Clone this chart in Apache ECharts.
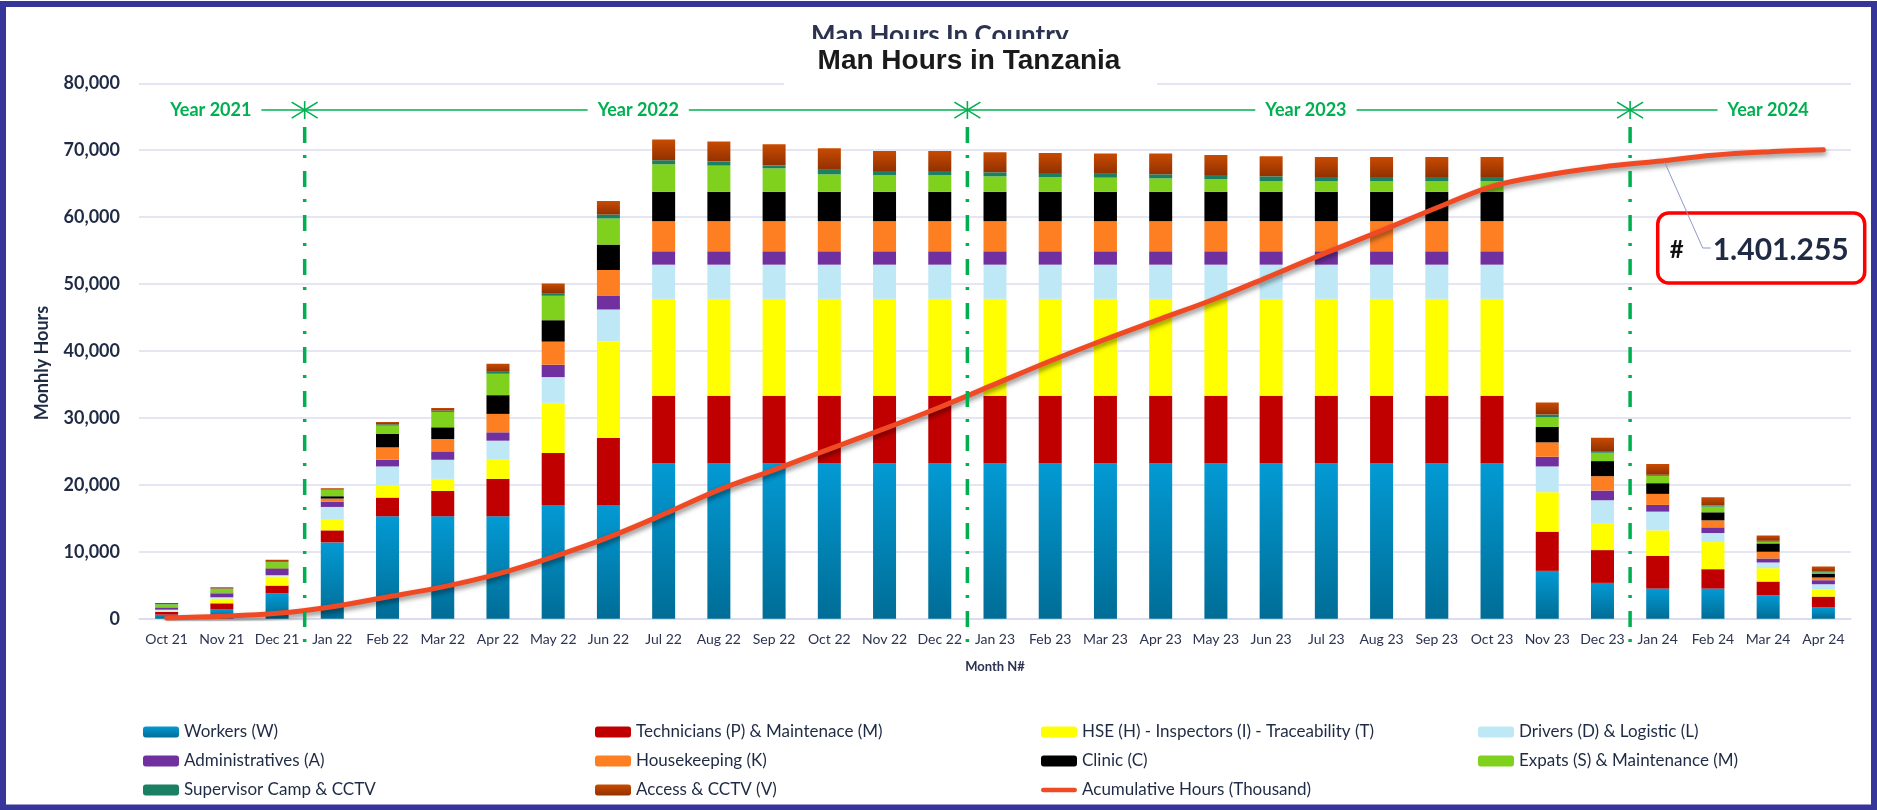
<!DOCTYPE html>
<html>
<head>
<meta charset="utf-8">
<script src="https://cdn.jsdelivr.net/npm/echarts@6/dist/echarts.min.js"></script>
<style>
  html, body { margin: 0; padding: 0; background: #ffffff; }
  #chart { width: 1877px; height: 810px; }
</style>
</head>
<body>
<div id="chart"></div>
<script>
// Months on the category axis
const months = ['Oct 21','Nov 21','Dec 21','Jan 22','Feb 22','Mar 22','Apr 22','May 22','Jun 22','Jul 22','Aug 22','Sep 22','Oct 22','Nov 22','Dec 22','Jan 23','Feb 23','Mar 23','Apr 23','May 23','Jun 23','Jul 23','Aug 23','Sep 23','Oct 23','Nov 23','Dec 23','Jan 24','Feb 24','Mar 24','Apr 24'];

// Monthly hours per staff group
const workers      = [600,1450,3800,11400,15300,15300,15300,17000,17000, 23200,23200,23200,23200,23200,23200,23200,23200,23200,23200,23200,23200,23200,23200,23200,23200, 7150,5350,4500,4500,3500,1700];
const technicians  = [400,850,1150,1800,2800,3800,5600,7750,10000, 10100,10100,10100,10100,10100,10100,10100,10100,10100,10100,10100,10100,10100,10100,10100,10100, 5850,4900,4900,2900,2050,1600];
const hse          = [200,700,1350,1700,1800,1800,2850,7500,14400, 14500,14500,14500,14500,14500,14500,14500,14500,14500,14500,14500,14500,14500,14500,14500,14500, 5900,4050,3800,4050,2000,1100];
const drivers      = [150,200,200,1800,2850,2850,2850,3850,4800, 5100,5100,5100,5100,5100,5100,5100,5100,5100,5100,5100,5100,5100,5100,5100,5100, 3850,3400,2800,1350,850,750];
const admins       = [250,600,950,800,1000,1250,1250,1850,2100, 2000,2000,2000,2000,2000,2000,2000,2000,2000,2000,2000,2000,2000,2000,2000,2000, 1450,1450,1000,850,600,600];
const housekeeping = [50,50,50,450,1850,1850,2750,3450,3800, 4500,4500,4500,4500,4500,4500,4500,4500,4500,4500,4500,4500,4500,4500,4500,4500, 2150,2150,1650,1050,1000,400];
const clinic       = [50,50,50,350,2050,1750,2800,3200,3800, 4400,4400,4400,4400,4400,4400,4400,4400,4400,4400,4400,4400,4400,4400,4400,4400, 2300,2250,1600,1200,1250,600];
const expats       = [450,550,900,950,1200,2300,3200,3650,3900, 4100,3900,3500,2600,2500,2500,2300,2200,2100,2000,1900,1600,1600,1600,1600,1600, 1450,1250,1100,850,250,150];
const supervisor   = [50,50,50,50,200,200,300,400,600, 600,600,400,700,600,600,600,600,600,600,600,700,600,600,600,600, 400,250,150,150,150,150];
const access       = [150,200,300,200,350,400,1200,1450,2000, 3100,3000,3200,3200,3000,3000,3000,3000,3000,3100,3000,3000,3000,3000,3000,3000, 1800,2000,1600,1250,800,750];

// Accumulated hours, in thousands
const cumulative = [2.4,7,16,36,65,95,134,185,243,312,385,445,507,568,632,701,770,835,896,957,1025,1094,1160,1228,1292,1326,1350,1367,1385,1395,1401.255];

// Year bands above the bars: label and first month index of each year
const yearLabels = ['Year 2021','Year 2022','Year 2023','Year 2024'];
const yearStarts = [0, 3, 15, 27];

const FONT = 'Lato, "Open Sans", sans-serif';
const NAVY = '#1f2a44';
const GREEN = '#00b050';
const LINE_RED = '#f04a25';

function vGrad(top, bottom) {
  return new echarts.graphic.LinearGradient(0, 0, 0, 1, [
    { offset: 0, color: top }, { offset: 1, color: bottom }
  ]);
}

const barGroups = [
  { name: 'Workers (W)', data: workers, color: vGrad('#039ad4', '#006d96') },
  { name: 'Technicians (P) & Maintenace (M)', data: technicians, color: '#c00000' },
  { name: 'HSE (H) - Inspectors (I) - Traceability (T)', data: hse, color: '#ffff00' },
  { name: 'Drivers (D) & Logistic (L)', data: drivers, color: '#bfe8f7' },
  { name: 'Administratives (A)', data: admins, color: '#7030a0' },
  { name: 'Housekeeping (K)', data: housekeeping, color: '#fd7f22' },
  { name: 'Clinic (C)', data: clinic, color: '#000000' },
  { name: 'Expats (S) & Maintenance (M)', data: expats, color: '#7fd11e' },
  { name: 'Supervisor Camp & CCTV', data: supervisor, color: '#1b7f62' },
  { name: 'Access & CCTV (V)', data: access, color: vGrad('#c84b00', '#923100') }
];
const lineName = 'Acumulative Hours (Thousand)';

const series = barGroups.map(g => ({
  name: g.name,
  type: 'bar',
  stack: 'total',
  barWidth: 23,
  data: g.data,
  itemStyle: { color: g.color },
  emphasis: { disabled: true }
}));
series.push({
  name: lineName,
  type: 'line',
  yAxisIndex: 1,
  data: cumulative,
  smooth: 0.35,
  symbol: 'none',
  z: 5,
  lineStyle: {
    color: LINE_RED, width: 5, cap: 'round',
    shadowColor: 'rgba(0,0,0,0.45)', shadowBlur: 5, shadowOffsetX: 1, shadowOffsetY: 3
  },
  itemStyle: { color: LINE_RED },
  emphasis: { disabled: true }
});

// Legend: four columns, three rows
const lineIcon = 'path://M2.5,0 H35.5 A2.5,2.5 0 0 1 35.5,5 H2.5 A2.5,2.5 0 0 1 2.5,0 Z';
const legendCommon = {
  orient: 'vertical',
  top: 717,
  itemWidth: 36,
  itemHeight: 11,
  itemGap: 9,
  selectedMode: false,
  textStyle: { fontFamily: FONT, fontSize: 17, color: NAVY, lineHeight: 20 }
};

const chart = echarts.init(document.getElementById('chart'), null, { renderer: 'canvas' });

chart.setOption({
  animation: false,
  backgroundColor: '#ffffff',
  grid: { left: 139, right: 26, top: 83.3, bottom: 191.3, containLabel: false },
  legend: [
    Object.assign({}, legendCommon, { left: 138, data: ['Workers (W)', 'Administratives (A)', 'Supervisor Camp & CCTV'] }),
    Object.assign({}, legendCommon, { left: 590, data: ['Technicians (P) & Maintenace (M)', 'Housekeeping (K)', 'Access & CCTV (V)'] }),
    Object.assign({}, legendCommon, { left: 1036, data: ['HSE (H) - Inspectors (I) - Traceability (T)', 'Clinic (C)',
      { name: lineName, icon: lineIcon, itemStyle: { color: LINE_RED } }] }),
    Object.assign({}, legendCommon, { left: 1473, data: ['Drivers (D) & Logistic (L)', 'Expats (S) & Maintenance (M)'] })
  ],
  xAxis: {
    type: 'category',
    data: months,
    axisTick: { show: false },
    axisLine: { lineStyle: { color: '#d9d9ee', width: 1.5 } },
    axisLabel: { fontFamily: FONT, fontSize: 14, color: '#2b3350', margin: 14, interval: 0 },
    name: 'Month N#',
    nameLocation: 'middle',
    nameGap: 42,
    nameTextStyle: { fontFamily: FONT, fontSize: 13, fontWeight: 'bold', color: '#2b3350' }
  },
  yAxis: [{
    type: 'value',
    min: 0, max: 80000, interval: 10000,
    axisLine: { show: false },
    axisTick: { show: false },
    splitLine: { lineStyle: { color: '#dcdcef', width: 1.5 } },
    axisLabel: {
      fontFamily: FONT, fontSize: 18, fontWeight: 'bold', color: NAVY, margin: 19,
      formatter: v => v.toLocaleString('en-US')
    }
  }, {
    type: 'value',
    min: 0, max: 1600, interval: 200,
    show: false,
    splitLine: { show: false }
  }],
  series: series
});

// Annotations placed from the axes' own scales
function xPix(i) { return chart.convertToPixel({ xAxisIndex: 0 }, i); }
function yPix(v) { return chart.convertToPixel({ yAxisIndex: 0 }, v); }
function y2Pix(v) { return chart.convertToPixel({ yAxisIndex: 1 }, v); }

const ctx = document.createElement('canvas').getContext('2d');
function textWidth(t, font) { ctx.font = font; return ctx.measureText(t).width; }

const step = xPix(1) - xPix(0);
const baseY = yPix(0);
const rowY = yPix(76000);
const yearFont = 'bold 18px ' + FONT;
const graphics = [];

// Outer frame
graphics.push({
  type: 'rect', z: 100, silent: true,
  shape: { x: 3, y: 4, width: 1871, height: 803.5 },
  style: { fill: null, stroke: '#36369a', lineWidth: 6 }
});

// Value axis title
graphics.push({
  type: 'text', z: 10, silent: true,
  x: 42, y: 363, rotation: Math.PI / 2,
  style: { text: 'Monhly Hours', x: 0, y: 0, font: 'bold 18px ' + FONT, fill: NAVY, align: 'center', verticalAlign: 'middle' }
});

// Older heading, partly covered by the current title panel
graphics.push({
  type: 'text', z: 10, silent: true,
  style: { text: 'Man Hours In Country', x: 811, y: 23, font: 'bold 26px ' + FONT, fill: '#2b3350', align: 'left', verticalAlign: 'top' }
});
graphics.push({
  type: 'rect', z: 11, silent: true,
  shape: { x: 784, y: 39, width: 373, height: 49 },
  style: { fill: '#ffffff' }
});
graphics.push({
  type: 'text', z: 12, silent: true,
  style: { text: 'Man Hours in Tanzania', x: 969, y: 61, font: 'bold 28px "Liberation Sans", Arial, sans-serif', fill: '#1a1a1a', align: 'center', verticalAlign: 'middle' }
});

// Year boundaries (between December and January)
const boundaries = yearStarts.slice(1).map(i => xPix(i) - step / 2);
const green = { stroke: GREEN, lineWidth: 1.6 };

boundaries.forEach(bx => {
  graphics.push({
    type: 'line', z: 20, silent: true,
    shape: { x1: bx, y1: rowY + 17, x2: bx, y2: baseY + 30 },
    style: { stroke: GREEN, lineWidth: 3.5, lineDash: [16, 12, 3, 13] }
  });
  graphics.push({ type: 'polyline', z: 20, silent: true, shape: { points: [[bx - 13, rowY - 8], [bx, rowY], [bx - 13, rowY + 8]] }, style: Object.assign({ fill: null }, green) });
  graphics.push({ type: 'polyline', z: 20, silent: true, shape: { points: [[bx + 13, rowY - 8], [bx, rowY], [bx + 13, rowY + 8]] }, style: Object.assign({ fill: null }, green) });
  graphics.push({ type: 'line', z: 20, silent: true, shape: { x1: bx, y1: rowY - 9, x2: bx, y2: rowY + 9 }, style: green });
});

// Year labels with their span lines
const labelCentres = [0.8, 8.54, 20.63, 29.0];
yearLabels.forEach((label, k) => {
  const cx = xPix(0) + labelCentres[k] * step;
  const half = textWidth(label, yearFont) / 2;
  graphics.push({
    type: 'text', z: 20, silent: true,
    style: { text: label, x: cx, y: rowY, font: yearFont, fill: GREEN, align: 'center', verticalAlign: 'middle' }
  });
  if (k > 0) {
    graphics.push({ type: 'line', z: 20, silent: true, shape: { x1: boundaries[k - 1], y1: rowY, x2: cx - half - 10, y2: rowY }, style: green });
  }
  if (k < boundaries.length) {
    graphics.push({ type: 'line', z: 20, silent: true, shape: { x1: cx + half + 10, y1: rowY, x2: boundaries[k], y2: rowY }, style: green });
  }
});

// Callout with the accumulated total
const total = Math.round(cumulative[cumulative.length - 1] * 1000);
const totalText = total.toString().replace(/\B(?=(\d{3})+(?!\d))/g, '.');
const ai = 27;
const ax = xPix(ai) + 7;
const ay = y2Pix(cumulative[ai]) + 1;
const boxX = xPix(ai), boxY = 213, boxW = 207, boxH = 70;
const midY = boxY + boxH / 2;
graphics.push({
  type: 'polyline', z: 30, silent: true,
  shape: { points: [[ax, ay], [ax + 38, midY], [ax + 46, midY]] },
  style: { fill: null, stroke: '#8d9bc6', lineWidth: 1 }
});
graphics.push({
  type: 'rect', z: 29, silent: true,
  shape: { x: boxX, y: boxY, width: boxW, height: boxH, r: 11 },
  style: { fill: '#ffffff', stroke: '#ff0000', lineWidth: 3.5 }
});
graphics.push({
  type: 'text', z: 31, silent: true,
  style: { text: '#', x: boxX + 12, y: midY + 2, font: 'bold 24px ' + FONT, fill: '#111111', align: 'left', verticalAlign: 'middle' }
});
graphics.push({
  type: 'text', z: 31, silent: true,
  style: { text: totalText, x: boxX + 55, y: midY + 2, font: 'bold 30px ' + FONT, fill: '#1f2a44', align: 'left', verticalAlign: 'middle' }
});

chart.setOption({ graphic: graphics });
</script>
</body>
</html>
